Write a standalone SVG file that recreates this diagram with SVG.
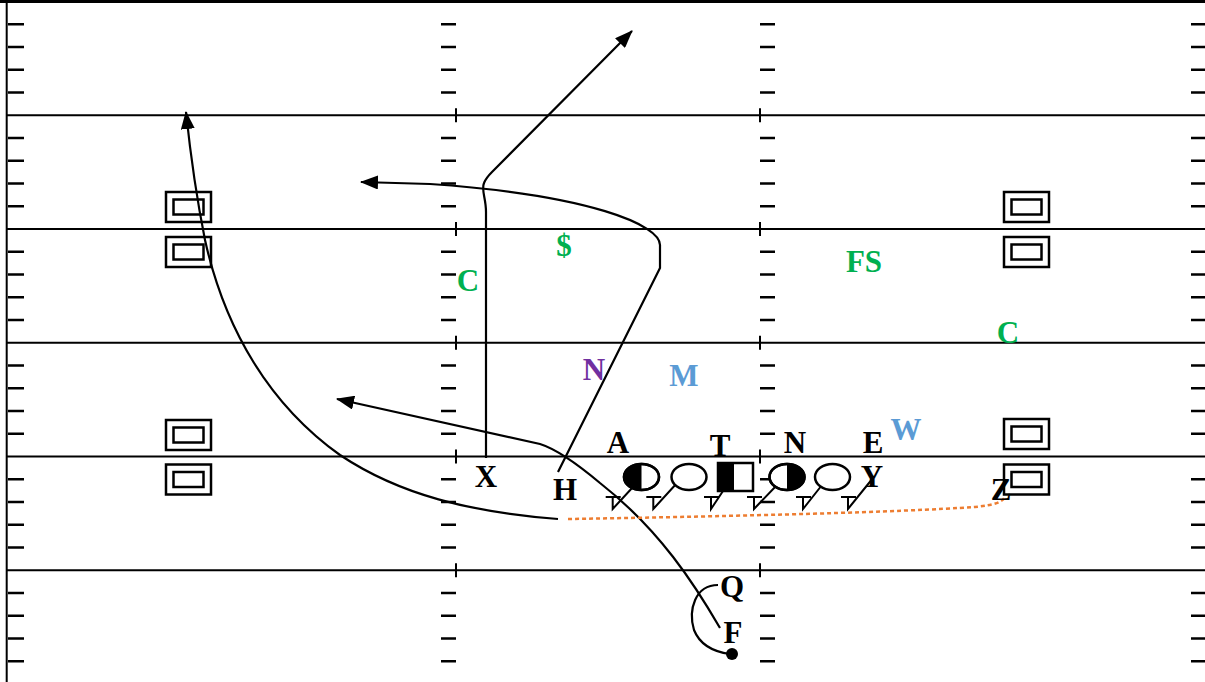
<svg xmlns="http://www.w3.org/2000/svg" width="1205" height="682" viewBox="0 0 1205 682">
<style>
.ln{stroke:#000;stroke-width:2;fill:none}
.tk{stroke:#000;stroke-width:2.5;fill:none}
.rt{stroke:#000;stroke-width:2.2;fill:none}
.box{stroke:#000;stroke-width:2.5;fill:none}
.lbl{font-family:"Liberation Serif","Times New Roman",serif;font-weight:bold;font-size:31px;text-anchor:middle}
.pl{stroke:#000;stroke-width:2.5;fill:#fff}
.blk{stroke:#000;stroke-width:2;fill:none}
.g{fill:#00B050}.b{fill:#5B9BD5}.p{fill:#7030A0}.k{fill:#000}
</style>
<defs>
<marker id="ah" markerWidth="18" markerHeight="14" refX="17" refY="7" orient="auto" markerUnits="userSpaceOnUse"><path d="M0,0 L18,7 L0,14 z" fill="#000"/></marker>
<g id="nb"><rect x="0" y="0" width="45" height="30" class="box"/><rect x="7.5" y="7.5" width="30" height="15" class="box"/></g>
</defs>
<rect width="1205" height="682" fill="#fff"/>
<g id="field">
<path d="M0,1.5 H1205" stroke="#000" stroke-width="3"/>
<path d="M6.7,0 V682" class="ln"/>
<path class="ln" d="M7,115.25 H1205 M7,229 H1205 M7,342.75 H1205 M7,456.5 H1205 M7,570.25 H1205"/>
<path class="tk" d="M8,24.25h16M8,47h16M8,69.75h16M8,92.5h16M8,138h16M8,160.75h16M8,183.5h16M8,206.25h16M8,251.75h16M8,274.5h16M8,297.25h16M8,320h16M8,365.5h16M8,388.25h16M8,411h16M8,433.75h16M8,479.25h16M8,502h16M8,524.75h16M8,547.5h16M8,593h16M8,615.75h16M8,638.5h16M8,661.25h16
M441,24.25h15M441,47h15M441,69.75h15M441,92.5h15M441,138h15M441,160.75h15M441,183.5h15M441,206.25h15M441,251.75h15M441,274.5h15M441,297.25h15M441,320h15M441,365.5h15M441,388.25h15M441,411h15M441,433.75h15M441,479.25h15M441,502h15M441,524.75h15M441,547.5h15M441,593h15M441,615.75h15M441,638.5h15M441,661.25h15
M760,24.25h15M760,47h15M760,69.75h15M760,92.5h15M760,138h15M760,160.75h15M760,183.5h15M760,206.25h15M760,251.75h15M760,274.5h15M760,297.25h15M760,320h15M760,365.5h15M760,388.25h15M760,411h15M760,433.75h15M760,479.25h15M760,502h15M760,524.75h15M760,547.5h15M760,593h15M760,615.75h15M760,638.5h15M760,661.25h15
M1191,24.25h14M1191,47h14M1191,69.75h14M1191,92.5h14M1191,138h14M1191,160.75h14M1191,183.5h14M1191,206.25h14M1191,251.75h14M1191,274.5h14M1191,297.25h14M1191,320h14M1191,365.5h14M1191,388.25h14M1191,411h14M1191,433.75h14M1191,479.25h14M1191,502h14M1191,524.75h14M1191,547.5h14M1191,593h14M1191,615.75h14M1191,638.5h14M1191,661.25h14"/>
<path class="ln" d="M456,108.25v14M760,108.25v14M456,222v14M760,222v14M456,335.75v14M760,335.75v14M456,449.5v14M760,449.5v14M456,563.25v14M760,563.25v14"/>
<use href="#nb" x="166" y="192"/><use href="#nb" x="166" y="237"/>
<use href="#nb" x="166" y="420"/><use href="#nb" x="166" y="464.5"/>
<use href="#nb" x="1004" y="192"/><use href="#nb" x="1004" y="237"/>
<use href="#nb" x="1004" y="419"/><use href="#nb" x="1004" y="464.5"/>
</g>
<g id="connectors">
<path id="route-x" class="rt" d="M486,458 L486,212 C486,198 481,190 484,183 C486,178 489,175 492,172 L632,31" marker-end="url(#ah)"/>
<path id="route-h" class="rt" d="M558,472 L660,268 L660,245 C660,225 590,195 430,184 L361,182" marker-end="url(#ah)"/>
<path id="route-q" class="rt" d="M720,628 C695,585 660,530 600,483 C575,462 556,449 540,444 L337,399" marker-end="url(#ah)"/>
<path id="route-sweep" class="rt" d="M558,519 C470,512 400,495 340,455 C270,405 225,330 205,240 C196,195 190,150 186,112" marker-end="url(#ah)"/>
<path id="route-z" d="M568,519 C750,516 900,512 975,507 C995,505 1002,502 1005,497" fill="none" stroke="#ED7D31" stroke-width="2.5" stroke-dasharray="4 3"/>
<path id="motion-f" class="rt" d="M718,585 C695,585 688,610 694,630 C700,645 715,652 730,654"/>
<path id="blocks" class="blk" d="M605.7,497h15M612.7,497v12L633,487 M646.3,497h15M653.3,497v12L677,483 M704,497h15M711,497v12L725,488 M747,497h15M754,497v12L777,485 M796,497h15M803,497v12L822,485 M841,497h15M848,497v12L873,478"/>
</g>
<g id="lt">
<ellipse cx="641.5" cy="477" rx="17.5" ry="13" class="pl"/>
<path d="M641.5,464 A17.5,13 0 0 0 641.5,490 Z" fill="#000"/>
<ellipse cx="641.5" cy="477" rx="17.5" ry="13" fill="none" stroke="#000" stroke-width="2.5"/>
</g>
<g id="lg"><ellipse cx="689" cy="477" rx="17.5" ry="13" class="pl"/></g>
<g id="c">
<rect x="718" y="463" width="35" height="28" class="pl"/>
<rect x="718" y="463" width="16" height="28" fill="#000"/>
</g>
<g id="rg">
<ellipse cx="787" cy="477" rx="17.5" ry="13" class="pl"/>
<path d="M787,464 A17.5,13 0 0 1 787,490 Z" fill="#000"/>
<ellipse cx="787" cy="477" rx="17.5" ry="13" fill="none" stroke="#000" stroke-width="2.5"/>
</g>
<g id="rt"><ellipse cx="832.5" cy="477" rx="17.5" ry="13" class="pl"/></g>
<g id="f-dot"><circle cx="732" cy="654" r="6" fill="#000"/></g>
<g id="labels">
<g id="lbl-a"><text class="lbl k" x="618" y="453">A</text></g>
<g id="lbl-t"><text class="lbl k" x="720" y="456">T</text></g>
<g id="lbl-n"><text class="lbl k" x="795" y="453">N</text></g>
<g id="lbl-e"><text class="lbl k" x="873" y="453">E</text></g>
<g id="lbl-y"><text class="lbl k" x="872" y="487">Y</text></g>
<g id="lbl-x"><text class="lbl k" x="486" y="487">X</text></g>
<g id="lbl-h"><text class="lbl k" x="565" y="500">H</text></g>
<g id="lbl-q"><text class="lbl k" x="732" y="597">Q</text></g>
<g id="lbl-f"><text class="lbl k" x="733" y="643">F</text></g>
<g id="lbl-z"><text class="lbl k" x="1001" y="500">Z</text></g>
<g id="lbl-w"><text class="lbl b" x="906" y="440">W</text></g>
<g id="lbl-m"><text class="lbl b" x="684" y="386">M</text></g>
<g id="lbl-np"><text class="lbl p" x="594" y="380">N</text></g>
<g id="lbl-c1"><text class="lbl g" x="468" y="291">C</text></g>
<g id="lbl-s"><text class="lbl g" x="564" y="256">$</text></g>
<g id="lbl-fs"><text class="lbl g" x="864" y="272">FS</text></g>
<g id="lbl-c2"><text class="lbl g" x="1008" y="343">C</text></g>
</g>
</svg>
